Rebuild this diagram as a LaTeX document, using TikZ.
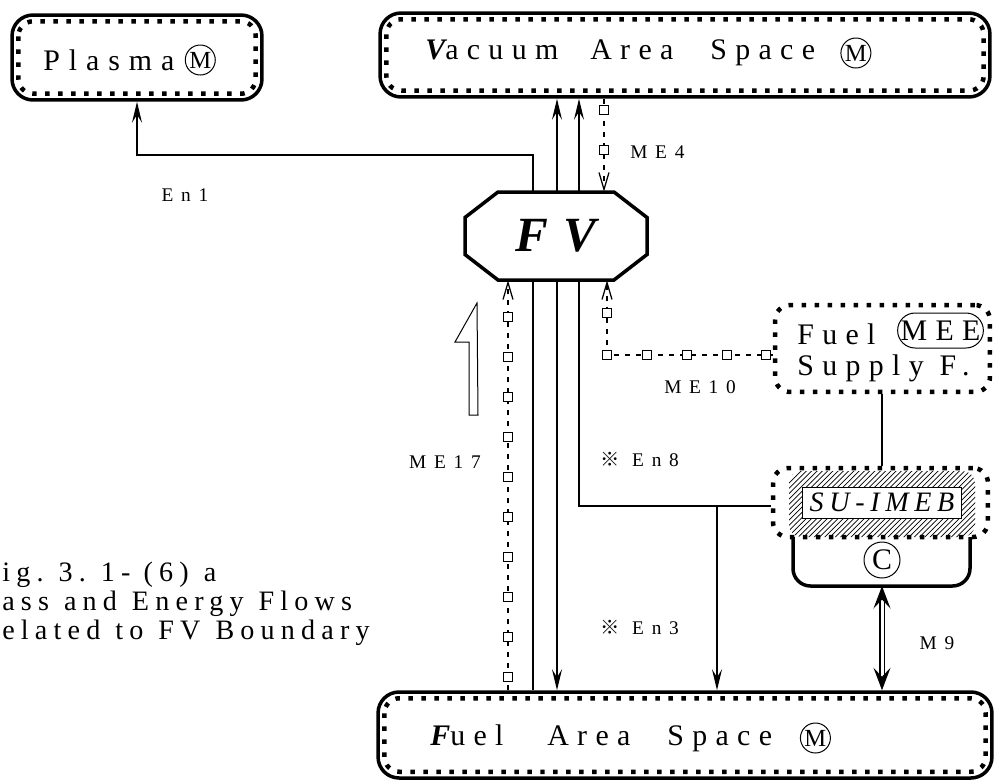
\documentclass[tikz,border=0pt]{standalone}
\usepackage{fontspec}
\setmainfont{Liberation Serif}
\newfontfamily\espaciada[LetterSpace=28]{Liberation Serif}
\newfontfamily\amplia[LetterSpace=30]{Liberation Serif}
\newfontfamily\estrecha[LetterSpace=20]{Liberation Serif}
\newfontfamily\rotulada[LetterSpace=40]{Liberation Serif}
\newfontfamily\leyendafont[LetterSpace=22]{Liberation Serif}
\newfontfamily\marca{Noto Sans CJK JP}
\usetikzlibrary{shapes.misc, arrows.meta, positioning, calc, patterns}
\newcommand{\hueco}{\hspace{0.3cm}}
\tikzset{
  zona/.style={rectangle, rounded corners=0.42cm, draw, line width=0.07cm},
  punteado/.style={line width=0.09cm, dash pattern=on 0.09cm off 0.17cm, rounded corners=0.3cm},
  octogono/.style={draw, line width=0.07cm, fill=white},
  linea/.style={line width=0.035cm},
  flecha/.style={linea, -{Stealth[length=0.42cm, width=0.2cm, inset=0.16cm]}},
  flechados/.style={linea, {Stealth[length=0.42cm, width=0.2cm, inset=0.16cm]}-{Stealth[length=0.42cm, width=0.2cm, inset=0.16cm]}},
  doble/.style={double, double distance=0.06cm, line width=0.03cm,
                {Stealth[length=0.45cm, width=0.34cm, inset=0.18cm]}-{Stealth[length=0.45cm, width=0.34cm, inset=0.18cm]}},
  flujome/.style={line width=0.025cm, dash pattern=on 0.1cm off 0.12cm, -{Straight Barb[length=0.34cm, width=0.2cm]}},
  cuadrito/.style={rectangle, draw, line width=0.02cm, fill=white, minimum width=0.17cm, minimum height=0.19cm, inner sep=0pt},
  titulo/.style={inner sep=0pt, font=\espaciada\fontsize{17}{17.6}\selectfont},
  circulo/.style={circle, draw, line width=0.02cm, inner sep=0.5pt, minimum size=0.6cm, font=\fontsize{14}{16}\selectfont},
  rotulo/.style={inner sep=0pt, font=\rotulada\fontsize{11}{13}\selectfont}
}
\begin{document}
\begin{tikzpicture}[x=0.02cm, y=-0.02cm]
  \useasboundingbox (0,0) rectangle (995,782);
  % zonas
  \node (plasma) [zona, minimum width=5.0cm, minimum height=1.7cm] at (137,57.5) {};
  \node (vacio) [zona, minimum width=12.2cm, minimum height=1.68cm] at (685,55) {};
  \node (combustible) [zona, minimum width=12.28cm, minimum height=1.72cm] at (685,735) {};
  \foreach \z in {plasma, vacio, combustible}
    \draw [punteado] ($(\z.north west)+(0.16cm,-0.16cm)$) rectangle ($(\z.south east)+(-0.16cm,0.16cm)$);
  \node (tplasma) [titulo, font=\amplia\fontsize{17}{20}\selectfont, anchor=west] at (43,60) {Plasma};
  \node (mplasma) [circulo, right=0.2cm of tplasma] {M};
  \node (tvacio) [titulo, anchor=west] at (425,53)
        {\makebox[3.3cm][l]{{\bfseries\itshape V}acuum}\makebox[2.4cm][l]{Area}Space};
  \node (mvacio) [circulo, right=0.5cm of tvacio] {M};
  \node (tcomb) [titulo, anchor=west] at (430,738)
        {\makebox[2.34cm][l]{{\bfseries\itshape F}uel}\makebox[2.4cm][l]{Area}Space};
  \node (mcomb) [circulo, right=0.55cm of tcomb] {M};

  % suministro y SU-IMEB
  \node (suministro) [rectangle, draw, punteado, minimum width=4.3cm, minimum height=1.74cm] at (882.5,348.5) {};
  \node (tsum) [titulo, anchor=west, align=left] at (797,352.5) {Fuel\\Supply F.};
  \node (mee) [rounded rectangle, draw, line width=0.02cm, inner sep=0pt, minimum width=1.7cm, minimum height=0.7cm,
               font=\espaciada\fontsize{17}{20}\selectfont] at (940.5,330.5) {MEE};
  \fill [pattern=north east lines, rounded corners=0.25cm] (789,471) rectangle (975,537);
  \node (su) [rectangle, draw, punteado, minimum width=4.3cm, minimum height=1.38cm] at (880.5,502.5) {};
  \node (sumeb) [rectangle, draw, line width=0.02cm, fill=white, minimum width=3.2cm, minimum height=0.62cm, inner sep=0pt,
                 font=\estrecha\itshape\fontsize{16}{20}\selectfont] at (882,502.5) {SU-IMEB};
  \draw [line width=0.07cm, rounded corners=0.35cm] (793,537) -- (793,586) -- (970,586) -- (970,537);
  \coordinate (cfondo) at (882,586);
  \node (cmarca) [circulo, minimum size=0.72cm, font=\fontsize{17}{20}\selectfont] at (882,560) {C};

  % flujos que cruzan FV
  \coordinate (codo1) at (533,155);
  \coordinate (xen3) at (557,0);
  \coordinate (codo8) at (579,506);
  \coordinate (rama8) at (717,506);
  \draw [flecha] (combustible.north -| codo1) -- (codo1) -| (plasma.south);
  \draw [flechados] (vacio.south -| xen3) -- (combustible.north -| xen3);
  \draw [flecha] (su.west |- codo8) -- (codo8) -- (vacio.south -| codo8);
  \draw [flecha] (rama8) -- (combustible.north -| rama8);
  \draw [linea] (suministro.south -| cmarca) -- (su.north -| cmarca);
  \draw [doble] (cfondo) -- (combustible.north -| cfondo);

  % FV
  \draw [octogono, shift={(556,236)}] (-58,-44) -- (58,-44) -- (91,-18.5) -- (91,18.5) -- (58,44) -- (-58,44) -- (-91,18.5) -- (-91,-18.5) -- cycle;
  \node (fv) [rectangle, minimum width=3.64cm, minimum height=1.76cm, inner sep=0pt,
              font=\bfseries\itshape\fontsize{28}{32}\selectfont] at (556,236) {F\hspace{0.3cm}V};

  % flujos de masa y energia (ME)
  \coordinate (xme4) at (604,0);
  \coordinate (xme17) at (508,0);
  \coordinate (codo10) at (607,355);
  \draw [flujome] (vacio.south -| xme4) -- (fv.north -| xme4);
  \draw [flujome] (combustible.north -| xme17) -- (fv.south -| xme17);
  \draw [flujome] (suministro.west |- codo10) -- (codo10) -- (fv.south -| codo10);
  \foreach \y in {110,150}
    \node [cuadrito] at (604,\y) {};
  \foreach \y in {317,357,...,677}
    \node [cuadrito] at (508,\y) {};
  \foreach \p in {(607,313),(607,355),(647,355),(687,355),(727,355),(766,355)}
    \node [cuadrito] at \p {};

  % flecha hueca
  \draw [line width=0.02cm] (477,303) -- (455,342) -- (469,342) -- (469,415) -- (478,415) -- cycle;

  % rotulos
  \node (len1) [rotulo] at (185,195) {En1};
  \node (lme4) [rotulo, anchor=west] at (630,152) {ME4};
  \node (lme10) [rotulo] at (700,387) {ME10};
  \node (len8) [rotulo, anchor=west] at (600,459) {{\marca ※} En8};
  \node (lme17) [rotulo] at (445,462) {ME17};
  \node (len3) [rotulo, anchor=west] at (600,627) {{\marca ※} En3};
  \node (lm9) [rotulo] at (937,643) {M9};
  \node (leyenda) [anchor=north west, align=left, inner sep=0pt, font=\leyendafont\fontsize{16}{16.5}\selectfont]
        at (2,562) {ig.\hueco 3.\hueco 1- (6)\hueco a\\ass\hueco and\hueco Energy\hueco Flows\\elated\hueco to\hueco FV\hueco Boundary};
\end{tikzpicture}
\end{document}
